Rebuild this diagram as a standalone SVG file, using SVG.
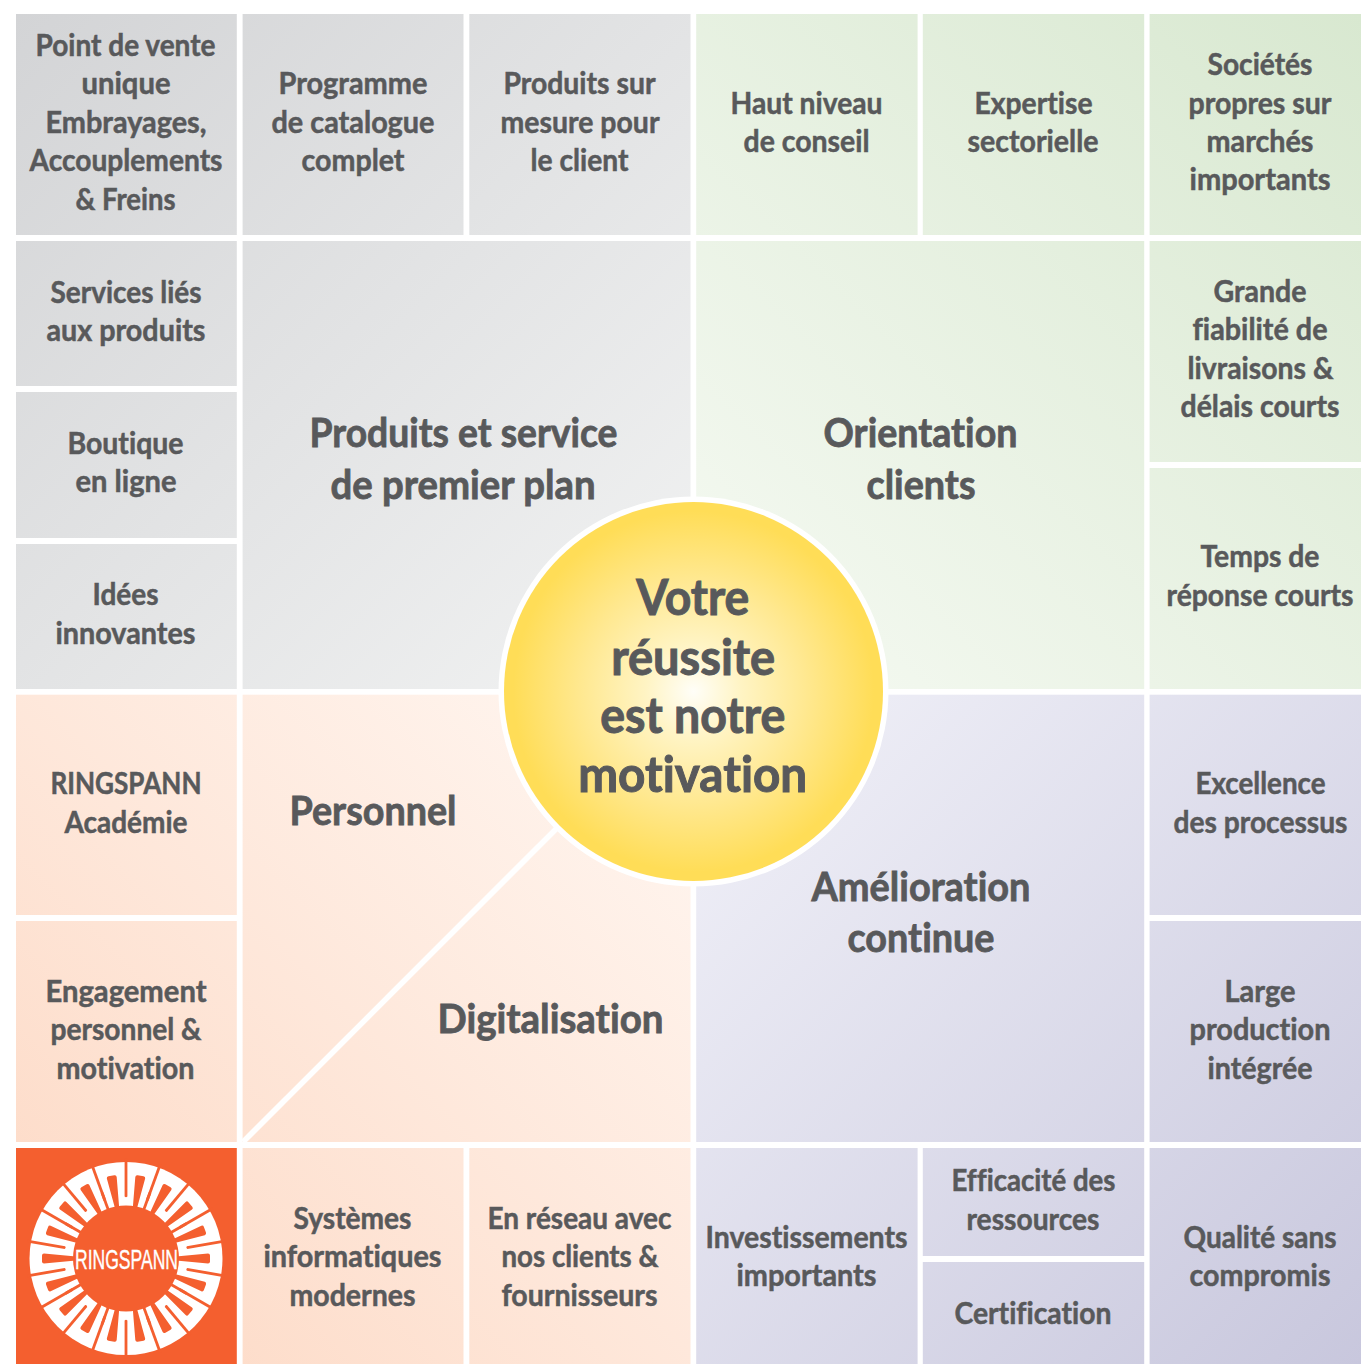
<svg xmlns="http://www.w3.org/2000/svg" width="1361" height="1364" viewBox="0 0 1361 1364">
<style>
text{font-family:"Lato","Open Sans","Liberation Sans",sans-serif;font-weight:700;fill:#58595b;stroke:#58595b;font-variant-ligatures:none}
.s{font-size:29.5px;stroke-width:.5px;transform:translateX(-.5px)}
.m{font-size:40px;stroke-width:.8px;transform:translate(-.5px,-1px)}
.c{font-size:49px;stroke-width:1px;transform:translateX(-.8px)}
.g{fill:url(#grey)}
.v{fill:url(#green)}
.p{fill:url(#peach)}
.l{fill:url(#lav)}
.o{fill:#f45f2f}
</style>
<defs>
<linearGradient id="grey" gradientUnits="userSpaceOnUse" x1="16" y1="14" x2="691" y2="689"><stop offset="0" stop-color="#d3d4d6"/><stop offset="1" stop-color="#f2f3f3"/></linearGradient>
<linearGradient id="green" gradientUnits="userSpaceOnUse" x1="1361" y1="14" x2="697" y2="689"><stop offset="0" stop-color="#d8e8d0"/><stop offset="1" stop-color="#f6faf3"/></linearGradient>
<linearGradient id="peach" gradientUnits="userSpaceOnUse" x1="16" y1="1364" x2="691" y2="695"><stop offset="0" stop-color="#fdd8c3"/><stop offset="1" stop-color="#fff7f2"/></linearGradient>
<linearGradient id="lav" gradientUnits="userSpaceOnUse" x1="1361" y1="1364" x2="697" y2="695"><stop offset="0" stop-color="#c8c7dd"/><stop offset="1" stop-color="#f2f2f9"/></linearGradient>
<radialGradient id="sun" gradientUnits="userSpaceOnUse" cx="693.5" cy="691.5" r="190"><stop offset="0" stop-color="#fffef8"/><stop offset=".25" stop-color="#fff4c4"/><stop offset=".6" stop-color="#ffe88f"/><stop offset=".95" stop-color="#ffdd57"/></radialGradient>
<g id="sector" class="o">
<path d="M-1.4-100V-62Q0-60.5 1.4-62V-100Z"/>
<path transform="rotate(10)" d="M-2-50L-5-82Q-5-84-3-84H3Q5-84 5-82L2-50Z"/>
</g>
</defs>
<rect width="1361" height="1364" fill="#fff"/>

<g id="point-de-vente"><rect class="g" x="16" y="14" width="220.8" height="221"/>
<text class="s" x="36" y="56" textLength="180" lengthAdjust="spacingAndGlyphs">Point de vente</text>
<text class="s" x="82" y="94" textLength="89" lengthAdjust="spacingAndGlyphs">unique</text>
<text class="s" x="46" y="133" textLength="161" lengthAdjust="spacingAndGlyphs">Embrayages,</text>
<text class="s" x="30" y="171" textLength="193" lengthAdjust="spacingAndGlyphs">Accouplements</text>
<text class="s" x="76" y="210" textLength="100" lengthAdjust="spacingAndGlyphs">&amp; Freins</text></g>
<g id="programme"><rect class="g" x="242.6" y="14" width="220.9" height="221"/>
<text class="s" x="279" y="94" textLength="149" lengthAdjust="spacingAndGlyphs">Programme</text>
<text class="s" x="272" y="133" textLength="163" lengthAdjust="spacingAndGlyphs">de catalogue</text>
<text class="s" x="302" y="171" textLength="103" lengthAdjust="spacingAndGlyphs">complet</text></g>
<g id="sur-mesure"><rect class="g" x="469.3" y="14" width="221.2" height="221"/>
<text class="s" x="504" y="94" textLength="152" lengthAdjust="spacingAndGlyphs">Produits sur</text>
<text class="s" x="501" y="133" textLength="159" lengthAdjust="spacingAndGlyphs">mesure pour</text>
<text class="s" x="531" y="171" textLength="98" lengthAdjust="spacingAndGlyphs">le client</text></g>
<g id="conseil"><rect class="v" x="696.2" y="14" width="221.4" height="221"/>
<text class="s" x="731" y="114" textLength="152" lengthAdjust="spacingAndGlyphs">Haut niveau</text>
<text class="s" x="744" y="152" textLength="126" lengthAdjust="spacingAndGlyphs">de conseil</text></g>
<g id="expertise"><rect class="v" x="922.8" y="14" width="221.4" height="221"/>
<text class="s" x="975" y="114" textLength="118" lengthAdjust="spacingAndGlyphs">Expertise</text>
<text class="s" x="968" y="152" textLength="131" lengthAdjust="spacingAndGlyphs">sectorielle</text></g>
<g id="societes"><rect class="v" x="1149.6" y="14" width="211.4" height="221"/>
<text class="s" x="1208" y="75" textLength="105" lengthAdjust="spacingAndGlyphs">Sociétés</text>
<text class="s" x="1189" y="114" textLength="143" lengthAdjust="spacingAndGlyphs">propres sur</text>
<text class="s" x="1207" y="152" textLength="107" lengthAdjust="spacingAndGlyphs">marchés</text>
<text class="s" x="1190" y="190" textLength="141" lengthAdjust="spacingAndGlyphs">importants</text></g>

<g id="services"><rect class="g" x="16" y="241" width="220.8" height="145"/>
<text class="s" x="51" y="303" textLength="151" lengthAdjust="spacingAndGlyphs">Services liés</text>
<text class="s" x="47" y="341" textLength="159" lengthAdjust="spacingAndGlyphs">aux produits</text></g>
<g id="boutique"><rect class="g" x="16" y="392" width="220.8" height="146"/>
<text class="s" x="68" y="454" textLength="116" lengthAdjust="spacingAndGlyphs">Boutique</text>
<text class="s" x="76" y="492" textLength="101" lengthAdjust="spacingAndGlyphs">en ligne</text></g>
<g id="idees"><rect class="g" x="16" y="544" width="220.8" height="145"/>
<text class="s" x="93" y="605" textLength="66" lengthAdjust="spacingAndGlyphs">Idées</text>
<text class="s" x="56" y="644" textLength="140" lengthAdjust="spacingAndGlyphs">innovantes</text></g>

<g id="produits-service"><rect class="g" x="242.6" y="241" width="447.9" height="448"/>
<text class="m" x="310" y="448" textLength="308" lengthAdjust="spacingAndGlyphs">Produits et service</text>
<text class="m" x="331" y="500" textLength="265" lengthAdjust="spacingAndGlyphs">de premier plan</text></g>
<g id="orientation"><rect class="v" x="696.2" y="241" width="448" height="448"/>
<text class="m" x="824" y="448" textLength="194" lengthAdjust="spacingAndGlyphs">Orientation</text>
<text class="m" x="867" y="500" textLength="109" lengthAdjust="spacingAndGlyphs">clients</text></g>

<g id="fiabilite"><rect class="v" x="1149.6" y="241" width="211.4" height="221"/>
<text class="s" x="1214" y="302" textLength="93" lengthAdjust="spacingAndGlyphs">Grande</text>
<text class="s" x="1193" y="340" textLength="135" lengthAdjust="spacingAndGlyphs">fiabilité de</text>
<text class="s" x="1188" y="379" textLength="146" lengthAdjust="spacingAndGlyphs">livraisons &amp;</text>
<text class="s" x="1181" y="417" textLength="159" lengthAdjust="spacingAndGlyphs">délais courts</text></g>
<g id="temps-reponse"><rect class="v" x="1149.6" y="468" width="211.4" height="221"/>
<text class="s" x="1201" y="567" textLength="119" lengthAdjust="spacingAndGlyphs">Temps de</text>
<text class="s" x="1167" y="606" textLength="187" lengthAdjust="spacingAndGlyphs">réponse courts</text></g>

<g id="academie"><rect class="p" x="16" y="694.7" width="220.8" height="220.3"/>
<text class="s" x="51" y="794" textLength="151" lengthAdjust="spacingAndGlyphs">RINGSPANN</text>
<text class="s" x="65" y="833" textLength="123" lengthAdjust="spacingAndGlyphs">Académie</text></g>
<g id="engagement"><rect class="p" x="16" y="921" width="220.8" height="221"/>
<text class="s" x="46" y="1002" textLength="161" lengthAdjust="spacingAndGlyphs">Engagement</text>
<text class="s" x="51" y="1040" textLength="151" lengthAdjust="spacingAndGlyphs">personnel &amp;</text>
<text class="s" x="57" y="1079" textLength="138" lengthAdjust="spacingAndGlyphs">motivation</text></g>

<g id="personnel-digitalisation"><rect class="p" x="242.6" y="694.7" width="447.9" height="447.3"/>
<text class="m" x="290" y="826" textLength="167" lengthAdjust="spacingAndGlyphs">Personnel</text>
<text class="m" x="438" y="1034" textLength="226" lengthAdjust="spacingAndGlyphs">Digitalisation</text></g>
<g id="amelioration"><rect class="l" x="696.2" y="694.7" width="448" height="447.3"/>
<text class="m" x="812" y="902" textLength="219" lengthAdjust="spacingAndGlyphs">Amélioration</text>
<text class="m" x="848" y="953" textLength="147" lengthAdjust="spacingAndGlyphs">continue</text></g>

<g id="excellence"><rect class="l" x="1149.6" y="694.7" width="211.4" height="220.3"/>
<text class="s" x="1196" y="794" textLength="130" lengthAdjust="spacingAndGlyphs">Excellence</text>
<text class="s" x="1174" y="833" textLength="174" lengthAdjust="spacingAndGlyphs">des processus</text></g>
<g id="production"><rect class="l" x="1149.6" y="921" width="211.4" height="221"/>
<text class="s" x="1225" y="1002" textLength="71" lengthAdjust="spacingAndGlyphs">Large</text>
<text class="s" x="1190" y="1040" textLength="141" lengthAdjust="spacingAndGlyphs">production</text>
<text class="s" x="1208" y="1079" textLength="105" lengthAdjust="spacingAndGlyphs">intégrée</text></g>

<g id="logo"><rect class="o" x="16" y="1148" width="220.8" height="216"/>
<g transform="translate(126 1258.5)">
<circle r="96.5" fill="#fff"/>
<use href="#sector"/>
<use href="#sector" transform="rotate(20)"/>
<use href="#sector" transform="rotate(40)"/>
<use href="#sector" transform="rotate(60)"/>
<use href="#sector" transform="rotate(80)"/>
<use href="#sector" transform="rotate(100)"/>
<use href="#sector" transform="rotate(120)"/>
<use href="#sector" transform="rotate(140)"/>
<use href="#sector" transform="rotate(160)"/>
<use href="#sector" transform="rotate(180)"/>
<use href="#sector" transform="rotate(200)"/>
<use href="#sector" transform="rotate(220)"/>
<use href="#sector" transform="rotate(240)"/>
<use href="#sector" transform="rotate(260)"/>
<use href="#sector" transform="rotate(280)"/>
<use href="#sector" transform="rotate(300)"/>
<use href="#sector" transform="rotate(320)"/>
<use href="#sector" transform="rotate(340)"/>
<path class="o" d="M-1.4-70H1.4V-45H-1.4Z" transform="rotate(20)"/>
<path class="o" d="M-1.4-70H1.4V-45H-1.4Z" transform="rotate(-20)"/>
<path class="o" d="M-1.4-70H1.4V-45H-1.4Z" transform="rotate(60)"/>
<path class="o" d="M-1.4-70H1.4V-45H-1.4Z" transform="rotate(-60)"/>
<path class="o" d="M-1.4-70H1.4V-45H-1.4Z" transform="rotate(120)"/>
<path class="o" d="M-1.4-70H1.4V-45H-1.4Z" transform="rotate(-120)"/>
<path class="o" d="M-1.4-70H1.4V-45H-1.4Z" transform="rotate(160)"/>
<path class="o" d="M-1.4-70H1.4V-45H-1.4Z" transform="rotate(-160)"/>
<circle r="53" class="o"/>
</g>
<text x="75" y="1269" font-size="28" style="font-family:'Liberation Sans',sans-serif;font-weight:400;fill:#fff;stroke:#fff;stroke-width:.4px" textLength="103" lengthAdjust="spacingAndGlyphs">RINGSPANN</text></g>

<g id="systemes"><rect class="p" x="242.6" y="1148" width="220.9" height="216"/>
<text class="s" x="294" y="1229" textLength="118" lengthAdjust="spacingAndGlyphs">Systèmes</text>
<text class="s" x="264" y="1267" textLength="178" lengthAdjust="spacingAndGlyphs">informatiques</text>
<text class="s" x="290" y="1306" textLength="126" lengthAdjust="spacingAndGlyphs">modernes</text></g>
<g id="reseau"><rect class="p" x="469.3" y="1148" width="221.2" height="216"/>
<text class="s" x="488" y="1229" textLength="184" lengthAdjust="spacingAndGlyphs">En réseau avec</text>
<text class="s" x="502" y="1267" textLength="157" lengthAdjust="spacingAndGlyphs">nos clients &amp;</text>
<text class="s" x="502" y="1306" textLength="156" lengthAdjust="spacingAndGlyphs">fournisseurs</text></g>
<g id="investissements"><rect class="l" x="696.2" y="1148" width="221.4" height="216"/>
<text class="s" x="706" y="1248" textLength="202" lengthAdjust="spacingAndGlyphs">Investissements</text>
<text class="s" x="737" y="1286" textLength="140" lengthAdjust="spacingAndGlyphs">importants</text></g>
<g id="efficacite"><rect class="l" x="922.8" y="1148" width="221.4" height="108"/>
<text class="s" x="952" y="1191" textLength="164" lengthAdjust="spacingAndGlyphs">Efficacité des</text>
<text class="s" x="967" y="1230" textLength="133" lengthAdjust="spacingAndGlyphs">ressources</text></g>
<g id="certification"><rect class="l" x="922.8" y="1262" width="221.4" height="102"/>
<text class="s" x="955" y="1324" textLength="157" lengthAdjust="spacingAndGlyphs">Certification</text></g>
<g id="qualite"><rect class="l" x="1149.6" y="1148" width="211.4" height="216"/>
<text class="s" x="1184" y="1248" textLength="153" lengthAdjust="spacingAndGlyphs">Qualité sans</text>
<text class="s" x="1190" y="1286" textLength="141" lengthAdjust="spacingAndGlyphs">compromis</text></g>

<g id="connectors"><line x1="243" y1="1142" x2="556" y2="829" stroke="#fff" stroke-width="5.5"/></g>

<g id="centre"><circle cx="693.5" cy="691.5" r="195" fill="#fff"/><circle cx="693.5" cy="691.5" r="189.5" fill="url(#sun)"/>
<text class="c" x="637" y="615" textLength="113" lengthAdjust="spacingAndGlyphs">Votre</text>
<text class="c" x="612" y="675" textLength="164" lengthAdjust="spacingAndGlyphs">réussite</text>
<text class="c" x="601" y="733" textLength="185" lengthAdjust="spacingAndGlyphs">est notre</text>
<text class="c" x="579" y="792" textLength="229" lengthAdjust="spacingAndGlyphs">motivation</text></g>
</svg>
